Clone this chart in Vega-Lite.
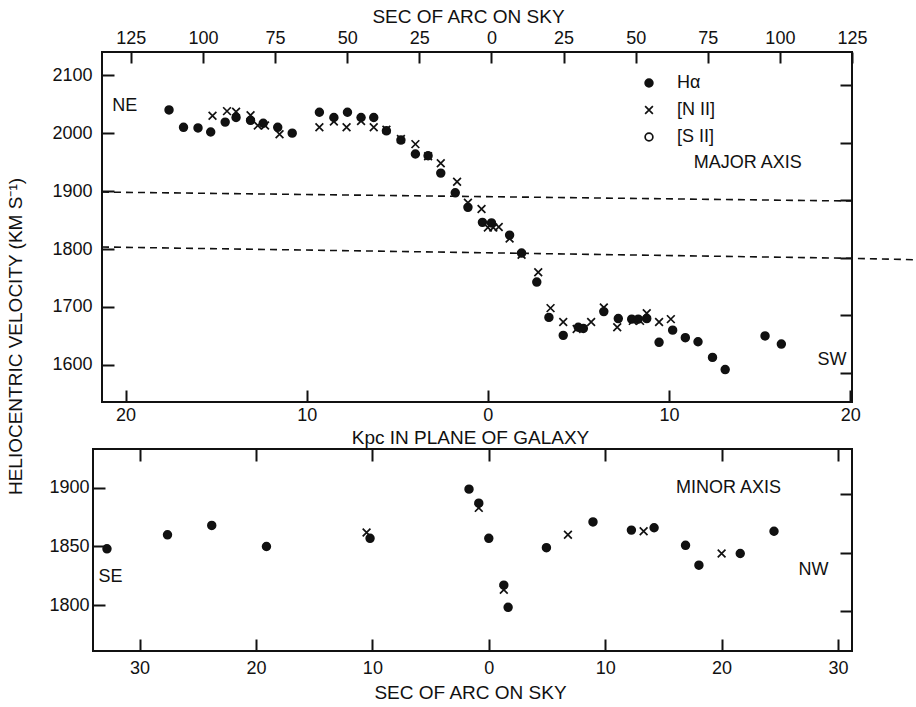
{
  "$schema": "https://vega.github.io/schema/vega-lite/v6.json",
  "background": "white",
  "padding": {"left": 5, "top": 6, "right": 2, "bottom": 2},
  "datasets": {
    "major": [
      {"kpc": -17.6, "v": 2040, "line": "Hα"},
      {"kpc": -16.8, "v": 2010, "line": "Hα"},
      {"kpc": -16.0, "v": 2009, "line": "Hα"},
      {"kpc": -15.3, "v": 2002, "line": "Hα"},
      {"kpc": -14.5, "v": 2019, "line": "Hα"},
      {"kpc": -13.9, "v": 2027, "line": "Hα"},
      {"kpc": -13.1, "v": 2022, "line": "Hα"},
      {"kpc": -12.4, "v": 2017, "line": "Hα"},
      {"kpc": -11.6, "v": 2010, "line": "Hα"},
      {"kpc": -10.8, "v": 2000, "line": "Hα"},
      {"kpc": -9.3, "v": 2036, "line": "Hα"},
      {"kpc": -8.5, "v": 2027, "line": "Hα"},
      {"kpc": -7.75, "v": 2036, "line": "Hα"},
      {"kpc": -7.0, "v": 2027, "line": "Hα"},
      {"kpc": -6.3, "v": 2027, "line": "Hα"},
      {"kpc": -5.6, "v": 2004, "line": "Hα"},
      {"kpc": -4.8, "v": 1988, "line": "Hα"},
      {"kpc": -4.0, "v": 1964, "line": "Hα"},
      {"kpc": -3.3, "v": 1961, "line": "Hα"},
      {"kpc": -2.6, "v": 1931, "line": "Hα"},
      {"kpc": -1.8, "v": 1897, "line": "Hα"},
      {"kpc": -1.1, "v": 1872, "line": "Hα"},
      {"kpc": -0.3, "v": 1846, "line": "Hα"},
      {"kpc": 0.2, "v": 1845, "line": "Hα"},
      {"kpc": 1.2, "v": 1824, "line": "Hα"},
      {"kpc": 1.86, "v": 1793, "line": "Hα"},
      {"kpc": 2.7, "v": 1743, "line": "Hα"},
      {"kpc": 3.37, "v": 1682, "line": "Hα"},
      {"kpc": 4.16, "v": 1651, "line": "Hα"},
      {"kpc": 4.99, "v": 1665, "line": "Hα"},
      {"kpc": 5.27, "v": 1663, "line": "Hα"},
      {"kpc": 6.4, "v": 1692, "line": "Hα"},
      {"kpc": 7.2, "v": 1680, "line": "Hα"},
      {"kpc": 7.94, "v": 1679, "line": "Hα"},
      {"kpc": 8.3, "v": 1679, "line": "Hα"},
      {"kpc": 8.77, "v": 1680, "line": "Hα"},
      {"kpc": 9.45, "v": 1639, "line": "Hα"},
      {"kpc": 10.2, "v": 1660, "line": "Hα"},
      {"kpc": 10.9, "v": 1647, "line": "Hα"},
      {"kpc": 11.6, "v": 1640, "line": "Hα"},
      {"kpc": 12.4, "v": 1613, "line": "Hα"},
      {"kpc": 13.1, "v": 1592, "line": "Hα"},
      {"kpc": 15.3, "v": 1650, "line": "Hα"},
      {"kpc": 16.2, "v": 1636, "line": "Hα"},
      {"kpc": -15.2, "v": 2030, "line": "[N II]"},
      {"kpc": -14.4, "v": 2038, "line": "[N II]"},
      {"kpc": -13.9, "v": 2037, "line": "[N II]"},
      {"kpc": -13.1, "v": 2031, "line": "[N II]"},
      {"kpc": -12.7, "v": 2013, "line": "[N II]"},
      {"kpc": -12.3, "v": 2013, "line": "[N II]"},
      {"kpc": -11.5, "v": 1998, "line": "[N II]"},
      {"kpc": -9.3, "v": 2010, "line": "[N II]"},
      {"kpc": -8.5, "v": 2020, "line": "[N II]"},
      {"kpc": -7.8, "v": 2010, "line": "[N II]"},
      {"kpc": -7.0, "v": 2021, "line": "[N II]"},
      {"kpc": -6.3, "v": 2010, "line": "[N II]"},
      {"kpc": -5.6, "v": 2006, "line": "[N II]"},
      {"kpc": -4.8, "v": 1990, "line": "[N II]"},
      {"kpc": -4.0, "v": 1981, "line": "[N II]"},
      {"kpc": -3.3, "v": 1960, "line": "[N II]"},
      {"kpc": -2.6, "v": 1948, "line": "[N II]"},
      {"kpc": -1.7, "v": 1916, "line": "[N II]"},
      {"kpc": -1.1, "v": 1880, "line": "[N II]"},
      {"kpc": -0.35, "v": 1869, "line": "[N II]"},
      {"kpc": 0.0, "v": 1837, "line": "[N II]"},
      {"kpc": 0.3, "v": 1837, "line": "[N II]"},
      {"kpc": 0.6, "v": 1838, "line": "[N II]"},
      {"kpc": 1.2, "v": 1818, "line": "[N II]"},
      {"kpc": 1.86, "v": 1790, "line": "[N II]"},
      {"kpc": 2.78, "v": 1760, "line": "[N II]"},
      {"kpc": 3.46, "v": 1698, "line": "[N II]"},
      {"kpc": 4.16, "v": 1674, "line": "[N II]"},
      {"kpc": 4.9, "v": 1662, "line": "[N II]"},
      {"kpc": 5.7, "v": 1674, "line": "[N II]"},
      {"kpc": 6.4, "v": 1699, "line": "[N II]"},
      {"kpc": 7.14, "v": 1665, "line": "[N II]"},
      {"kpc": 8.0, "v": 1676, "line": "[N II]"},
      {"kpc": 8.4, "v": 1676, "line": "[N II]"},
      {"kpc": 8.77, "v": 1689, "line": "[N II]"},
      {"kpc": 9.45, "v": 1674, "line": "[N II]"},
      {"kpc": 10.1, "v": 1679, "line": "[N II]"}
    ],
    "dashes": [
      {"id": "a", "kpc": -21.3, "v": 1898.3},
      {"id": "a", "kpc": 20.1, "v": 1882.8},
      {"id": "b", "kpc": -21.3, "v": 1803.5},
      {"id": "b", "kpc": 20.1, "v": 1784},
      {"id": "b", "kpc": 23.6, "v": 1781.5}
    ],
    "majorText": [
      {"kpc": -20.05, "v": 2047, "t": "NE"},
      {"kpc": 19.0, "v": 1609, "t": "SW"},
      {"kpc": 14.34, "v": 1948, "t": "MAJOR AXIS"}
    ],
    "minor": [
      {"sec": -32.8, "v": 1848, "line": "Hα"},
      {"sec": -27.6, "v": 1860, "line": "Hα"},
      {"sec": -23.8, "v": 1868, "line": "Hα"},
      {"sec": -19.1, "v": 1850, "line": "Hα"},
      {"sec": -10.2, "v": 1857, "line": "Hα"},
      {"sec": -1.7, "v": 1899, "line": "Hα"},
      {"sec": -0.86, "v": 1887, "line": "Hα"},
      {"sec": 0.0, "v": 1857, "line": "Hα"},
      {"sec": 1.29, "v": 1817, "line": "Hα"},
      {"sec": 1.66, "v": 1798, "line": "Hα"},
      {"sec": 4.95, "v": 1849, "line": "Hα"},
      {"sec": 8.95, "v": 1871, "line": "Hα"},
      {"sec": 12.25, "v": 1864, "line": "Hα"},
      {"sec": 14.2, "v": 1866, "line": "Hα"},
      {"sec": 16.9, "v": 1851, "line": "Hα"},
      {"sec": 18.05, "v": 1834, "line": "Hα"},
      {"sec": 21.6, "v": 1844, "line": "Hα"},
      {"sec": 24.5, "v": 1863, "line": "Hα"},
      {"sec": -10.5, "v": 1862, "line": "[N II]"},
      {"sec": -0.86, "v": 1883, "line": "[N II]"},
      {"sec": 1.29, "v": 1813, "line": "[N II]"},
      {"sec": 6.8, "v": 1860, "line": "[N II]"},
      {"sec": 13.3, "v": 1863, "line": "[N II]"},
      {"sec": 20.0, "v": 1844, "line": "[N II]"}
    ],
    "minorText": [
      {"sec": 20.6, "v": 1899.6, "t": "MINOR AXIS"},
      {"sec": 27.9, "v": 1829.5, "t": "NW"},
      {"sec": -32.5, "v": 1824, "t": "SE"}
    ]
  },
  "vconcat": [
    {
      "hconcat": [
        {
          "width": 9,
          "height": 350,
          "view": {"stroke": null},
          "data": {"values": [{"a": 0}]},
          "mark": {"type": "text", "text": ""},
          "encoding": {}
        },
        {
          "width": 750,
          "height": 350,
          "layer": [
            {
              "layer": [
                {
                  "data": {"name": "major"},
                  "mark": {"type": "point", "size": 60, "strokeWidth": 1.7, "stroke": "#111", "opacity": 1},
                  "encoding": {
                    "x": {
                      "field": "kpc", "type": "quantitative",
                      "scale": {"domain": [-21.3, 20.1], "nice": false, "zero": false},
                      "axis": {
                        "orient": "bottom", "values": [-20, -10, 0, 10, 20],
                        "labelExpr": "'' + abs(datum.value)",
                        "title": "Kpc IN PLANE OF GALAXY",
                        "labelPadding": 16, "titlePadding": 4, "titleX": 368
                      }
                    },
                    "y": {
                      "field": "v", "type": "quantitative",
                      "scale": {"domain": [1536, 2140], "nice": false, "zero": false},
                      "axis": {
                        "orient": "left", "values": [1600, 1700, 1800, 1900, 2000, 2100],
                        "labelExpr": "'' + datum.value",
                        "title": "HELIOCENTRIC VELOCITY (KM S⁻¹)",
                        "labelPadding": 22, "titleX": -77, "titleY": 284,
                        "titleAngle": 270, "titleBaseline": "bottom", "titleAlign": "center"
                      }
                    },
                    "shape": {
                      "field": "line", "type": "nominal",
                      "scale": {"domain": ["Hα", "[N II]", "[S II]"], "range": ["circle", "M-1,-1L1,1M1,-1L-1,1", "circle"]},
                      "legend": {"title": null, "orient": "none", "legendX": 547, "legendY": 22, "symbolStrokeColor": "#111", "symbolStrokeWidth": 1.7,
                        "encode": {"symbols": {"update": {"stroke": {"value": "#111"}, "strokeWidth": {"value": 1.7}, "opacity": {"value": 1}}}}}
                    },
                    "fill": {
                      "field": "line", "type": "nominal",
                      "scale": {"domain": ["Hα", "[N II]", "[S II]"], "range": ["#111", "transparent", "white"]},
                      "legend": {"title": null, "orient": "none", "legendX": 547, "legendY": 22, "symbolStrokeColor": "#111", "symbolStrokeWidth": 1.7,
                        "encode": {"symbols": {"update": {"stroke": {"value": "#111"}, "strokeWidth": {"value": 1.7}, "opacity": {"value": 1}}}}}
                    }
                  }
                },
                {
                  "data": {"name": "dashes"},
                  "mark": {"type": "line", "strokeDash": [7, 5], "color": "#111", "strokeWidth": 1.6, "clip": false},
                  "encoding": {
                    "x": {"field": "kpc", "type": "quantitative"},
                    "y": {"field": "v", "type": "quantitative"},
                    "detail": {"field": "id", "type": "nominal"}
                  }
                },
                {
                  "data": {"name": "majorText"},
                  "mark": {"type": "text", "fontSize": 18, "color": "#111", "align": "center", "baseline": "middle"},
                  "encoding": {
                    "x": {"field": "kpc", "type": "quantitative"},
                    "y": {"field": "v", "type": "quantitative"},
                    "text": {"field": "t", "type": "nominal"}
                  }
                }
              ]
            },
            {
              "data": {"values": [{"sec": 0, "v2": 1800}]},
              "mark": {"type": "point", "opacity": 0},
              "encoding": {
                "x": {
                  "field": "sec", "type": "quantitative",
                  "scale": {"domain": [-135, 125], "nice": false, "zero": false},
                  "axis": {
                    "orient": "top", "values": [-125, -100, -75, -50, -25, 0, 25, 50, 75, 100, 125],
                    "labelExpr": "'' + abs(datum.value)",
                    "title": "SEC OF ARC ON SKY", "tickSize": -11,
                    "labelPadding": 16, "titlePadding": 3, "titleX": 366
                  }
                },
                "y": {
                  "field": "v2", "type": "quantitative",
                  "scale": {"domain": [1549.7, 2157.3], "nice": false, "zero": false},
                  "axis": {"orient": "right", "values": [1600, 1700, 1800, 1900, 2000, 2100], "labels": false, "title": null}
                }
              }
            }
          ],
          "resolve": {"scale": {"x": "independent", "y": "independent"}}
        }
      ],
      "spacing": 0,
      "bounds": "flush"
    },
    {
      "width": 759,
      "height": 202,
      "layer": [
        {
          "layer": [
            {
              "data": {"name": "minor"},
              "mark": {"type": "point", "size": 60, "strokeWidth": 1.7, "stroke": "#111", "opacity": 1},
              "encoding": {
                "x": {
                  "field": "sec", "type": "quantitative",
                  "scale": {"domain": [-34, 31.2], "nice": false, "zero": false},
                  "axis": {
                    "orient": "bottom", "values": [-30, -20, -10, 0, 10, 20, 30],
                    "labelExpr": "'' + abs(datum.value)",
                    "title": "SEC OF ARC ON SKY",
                    "labelPadding": 20, "titlePadding": 6, "titleX": 377
                  }
                },
                "y": {
                  "field": "v", "type": "quantitative",
                  "scale": {"domain": [1760.7, 1933.3], "nice": false, "zero": false},
                  "axis": {"orient": "left", "values": [1800, 1850, 1900], "labelExpr": "'' + datum.value", "title": null, "labelPadding": 16}
                },
                "shape": {
                  "field": "line", "type": "nominal",
                  "scale": {"domain": ["Hα", "[N II]", "[S II]"], "range": ["circle", "M-1,-1L1,1M1,-1L-1,1", "circle"]},
                  "legend": {"title": null, "orient": "none", "legendX": 547, "legendY": 22, "symbolStrokeColor": "#111", "symbolStrokeWidth": 1.7,
                    "encode": {"symbols": {"update": {"stroke": {"value": "#111"}, "strokeWidth": {"value": 1.7}, "opacity": {"value": 1}}}}}
                },
                "fill": {
                  "field": "line", "type": "nominal",
                  "scale": {"domain": ["Hα", "[N II]", "[S II]"], "range": ["#111", "transparent", "white"]},
                  "legend": {"title": null, "orient": "none", "legendX": 547, "legendY": 22, "symbolStrokeColor": "#111", "symbolStrokeWidth": 1.7,
                    "encode": {"symbols": {"update": {"stroke": {"value": "#111"}, "strokeWidth": {"value": 1.7}, "opacity": {"value": 1}}}}}
                }
              }
            },
            {
              "data": {"name": "minorText"},
              "mark": {"type": "text", "fontSize": 18, "color": "#111", "align": "center", "baseline": "middle"},
              "encoding": {
                "x": {"field": "sec", "type": "quantitative"},
                "y": {"field": "v", "type": "quantitative"},
                "text": {"field": "t", "type": "nominal"}
              }
            }
          ]
        },
        {
          "data": {"values": [{"sec2": 0, "v2": 1850}]},
          "mark": {"type": "point", "opacity": 0},
          "encoding": {
            "x": {
              "field": "sec2", "type": "quantitative",
              "scale": {"domain": [-34, 31.2], "nice": false, "zero": false},
              "axis": {"orient": "top", "values": [-30, -20, -10, 0, 10, 20, 30], "labels": false, "title": null}
            },
            "y": {
              "field": "v2", "type": "quantitative",
              "scale": {"domain": [1765.8, 1938.5], "nice": false, "zero": false},
              "axis": {"orient": "right", "values": [1800, 1850, 1900], "labels": false, "title": null}
            }
          }
        }
      ],
      "resolve": {"scale": {"x": "independent", "y": "independent"}}
    }
  ],
  "spacing": 397,
  "bounds": "flush",
  "resolve": {"scale": {"shape": "shared", "fill": "shared"}, "legend": {"shape": "shared", "fill": "shared"}},
  "config": {
    "font": "Liberation Sans",
    "view": {"stroke": "#111", "strokeWidth": 2},
    "axis": {
      "domain": false, "grid": false,
      "tickColor": "#111", "tickWidth": 2, "tickSize": -12,
      "labelColor": "#111", "titleColor": "#111",
      "labelFontSize": 18, "titleFontSize": 19, "titleFontWeight": "normal",
      "labelFont": "Liberation Sans", "titleFont": "Liberation Sans",
      "labelOverlap": false, "labelFlush": false
    },
    "legend": {
      "padding": 0, "symbolSize": 60, "symbolStrokeColor": "#111", "symbolStrokeWidth": 1.7,
      "labelFontSize": 18, "labelColor": "#111", "labelFont": "Liberation Sans",
      "labelOffset": 19, "rowPadding": 9, "symbolOpacity": 1
    }
  }
}
